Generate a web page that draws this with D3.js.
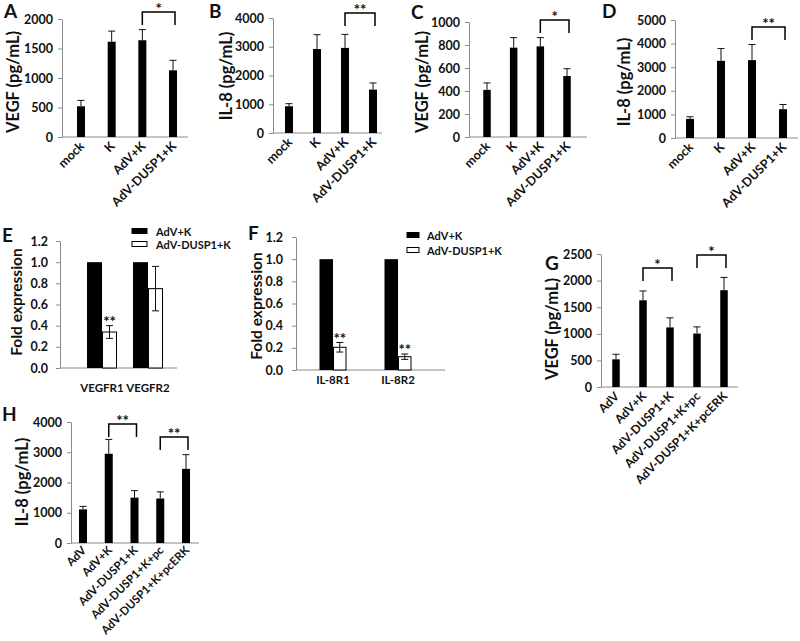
<!DOCTYPE html>
<html><head><meta charset="utf-8">
<script src="https://cdn.jsdelivr.net/npm/d3@7"></script>
<style>
body{margin:0;background:#fff}
svg text{font-family:Lato,"Open Sans",sans-serif;font-weight:700;fill:#111}
</style>
</head><body><svg id="c" width="800" height="641"></svg>
<script>
// ---------------- data ----------------
const catsCyt = ["mock","K","AdV+K","AdV-DUSP1+K"];
const catsRescue = ["AdV","AdV+K","AdV-DUSP1+K","AdV-DUSP1+K+pc","AdV-DUSP1+K+pcERK"];
const valsA = [520,1615,1640,1130], errA = [100,180,180,170];
const valsB = [930,2920,2960,1510], errB = [90,500,470,230];
const valsC = [410,777,788,530],   errC = [60,87,76,64];
const valsD = [810,3270,3300,1220], errD = [90,520,660,200];
const groupsE = ["VEGFR1","VEGFR2"], ctrlE = [1,1], dusE = [0.34,0.75], errE = [0.06,0.21];
const groupsF = ["IL-8R1","IL-8R2"], ctrlF = [1,1], dusF = [0.205,0.12], errF = [0.043,0.024];
const valsG = [520,1630,1120,1005,1820], errG = [95,175,180,125,240];
const valsH = [1110,2950,1500,1470,2450], errH = [100,475,230,220,470];
const ticksA = [0,500,1000,1500,2000];
const ticksB = [0,1000,2000,3000,4000];
const ticksC = [0,200,400,600,800,1000];
const ticksD = [0,1000,2000,3000,4000,5000];
const ticksEF = [0,0.2,0.4,0.6,0.8,1.0,1.2];
const ticksG = [0,500,1000,1500,2000,2500];
const ticksH = [0,1000,2000,3000,4000];
const legendLabels = ["AdV+K","AdV-DUSP1+K"];
// significance: [from index, to index, bracket top value, label]
const sigA = [[2,3,2119,"*"]];
const sigB = [[2,3,4174,"**"]];
const sigC = [[2,3,1017,"*"]];
const sigD = [[2,3,4703,"**"]];
const sigE = [[0,"**"]];
const sigF = [[0,"**"],[1,"**"]];
const sigG = [[1,2,2237,"*"],[3,4,2481,"*"]];
const sigH = [[1,2,3934,"**"],[3,4,3504,"**"]];

// ---------------- drawing ----------------
const svg = d3.select("#c");
const AX = "#8a8a8a";

function yAxis(g, y, ticks, axX, fmt, pad){
  const ax = d3.axisLeft(y).tickValues(ticks).tickSize(4).tickSizeOuter(0)
    .tickPadding(pad).tickFormat(fmt);
  const ga = g.append("g").attr("transform",`translate(${axX},0)`).call(ax);
  ga.attr("font-family",null).attr("font-size",null);
  ga.select(".domain").attr("stroke",AX);
  ga.selectAll(".tick line").attr("stroke",AX);
  ga.selectAll(".tick text").attr("font-size",12.5).attr("fill","#111");
}

function label(g, txt, x, y, size, rot){
  const t = g.append("text").text(txt).attr("font-size",size).attr("text-anchor","middle")
    .attr("dominant-baseline","central");
  if(rot) t.attr("transform",`translate(${x},${y}) rotate(-90)`);
  else t.attr("x",x).attr("y",y);
}

function barPanel(p){
  const g = svg.append("g");
  const x = d3.scalePoint().domain(p.cats).range([p.c0,p.c1]);
  const y = d3.scaleLinear().domain([0,p.ymax]).range([p.y0,p.yTop]);
  yAxis(g, y, p.ticks, p.ax, d3.format("d"), 5);
  g.append("line").attr("x1",p.ax).attr("x2",p.axEnd).attr("y1",p.y0).attr("y2",p.y0).attr("stroke",AX);
  const data = p.cats.map((c,i)=>({c, v:p.vals[i], e:p.errs[i]}));
  g.selectAll(".eb").data(data).enter().append("line")
    .attr("x1",d=>x(d.c)).attr("x2",d=>x(d.c)).attr("y1",d=>y(d.v)).attr("y2",d=>y(d.v+d.e))
    .attr("stroke","#111").attr("stroke-width",1);
  g.selectAll(".ec").data(data).enter().append("line")
    .attr("x1",d=>x(d.c)-3.5).attr("x2",d=>x(d.c)+3.5).attr("y1",d=>y(d.v+d.e)).attr("y2",d=>y(d.v+d.e))
    .attr("stroke","#111").attr("stroke-width",1);
  g.selectAll(".bar").data(data).enter().append("rect")
    .attr("x",d=>x(d.c)-p.bw/2).attr("width",p.bw)
    .attr("y",d=>y(d.v)).attr("height",d=>p.y0-y(d.v)).attr("fill","#000");
  g.selectAll(".xl").data(p.cats).enter().append("text").text(d=>d)
    .attr("font-size",p.xfs||12.5).attr("text-anchor","end")
    .attr("transform",d=>`translate(${x(d)+4},${p.y0+p.xoff}) rotate(-45)`);
  p.sig.forEach(s=>{
    const x1 = x(p.cats[s[0]]), x2 = x(p.cats[s[1]]) + 2, yt = y(s[2]);
    g.append("path").attr("d",`M${x1},${yt+13}V${yt}H${x2}V${yt+13}`)
      .attr("fill","none").attr("stroke","#000").attr("stroke-width",1.5);
    g.append("text").text(s[3]).attr("x",(x1+x2)/2).attr("y",yt+2)
      .attr("text-anchor","middle").attr("font-size",15);
  });
  label(g, p.ylab, p.lx, p.ly, 16.5, true);
  g.append("text").text(p.letter).attr("x",p.px).attr("y",p.py).attr("font-size",19);
}

function groupPanel(p){
  const g = svg.append("g");
  const x = d3.scalePoint().domain(p.groups).range([p.c0,p.c1]);
  const y = d3.scaleLinear().domain([0,1.2]).range([p.y0,p.yTop]);
  yAxis(g, y, ticksEF, p.ax, d3.format(".1f"), p.pad);
  g.append("line").attr("x1",p.ax).attr("x2",p.axEnd).attr("y1",p.y0).attr("y2",p.y0).attr("stroke",AX);
  const data = p.groups.map((c,i)=>({c, a:p.ctrl[i], b:p.dus[i], e:p.err[i]}));
  g.selectAll(".ba").data(data).enter().append("rect")
    .attr("x",d=>x(d.c)-p.bw).attr("width",p.bw)
    .attr("y",d=>y(d.a)).attr("height",d=>p.y0-y(d.a)).attr("fill","#000");
  g.selectAll(".bb").data(data).enter().append("rect")
    .attr("x",d=>x(d.c)+0.5).attr("width",p.bw-1)
    .attr("y",d=>y(d.b)).attr("height",d=>p.y0-y(d.b)).attr("fill","#fff").attr("stroke","#000").attr("stroke-width",1);
  g.selectAll(".eb").data(data).enter().append("path")
    .attr("d",d=>{const cx=x(d.c)+p.bw/2, lo=y(d.b-d.e), hi=y(d.b+d.e);
      return `M${cx},${lo}V${hi}M${cx-3.5},${lo}H${cx+3.5}M${cx-3.5},${hi}H${cx+3.5}`;})
    .attr("fill","none").attr("stroke","#111").attr("stroke-width",1);
  g.selectAll(".xl").data(p.groups).enter().append("text").text(d=>d)
    .attr("x",d=>x(d)).attr("y",p.y0+p.xlOff).attr("font-size",11.5)
    .attr("text-anchor","middle").attr("dominant-baseline","central");
  p.sig.forEach(s=>{
    const d = data[s[0]];
    g.append("text").text(s[1]).attr("x",x(d.c)+p.bw/2).attr("y",y(d.b+d.e)+1)
      .attr("text-anchor","middle").attr("font-size",15);
  });
  legendLabels.forEach((t,i)=>{
    const ly = p.legY + i*p.legGap;
    g.append("rect").attr("x",p.legX).attr("y",ly-2.5).attr("width",p.legW).attr("height",5)
      .attr("fill",i===0?"#000":"#fff").attr("stroke","#000").attr("stroke-width",1);
    g.append("text").text(t).attr("x",p.legX+p.legW+p.legTx).attr("y",ly).attr("font-size",11)
      .attr("dominant-baseline","central");
  });
  label(g, "Fold expression", p.lx, p.ly, 15.5, true);
  g.append("text").text(p.letter).attr("x",p.px).attr("y",p.py).attr("font-size",19);
}

barPanel({cats:catsCyt, vals:valsA, errs:errA, ticks:ticksA, ymax:2000, sig:sigA, xoff:10,
  ax:62, axEnd:188, c0:81, c1:173, y0:137, yTop:19, bw:8,
  ylab:"VEGF (pg/mL)", lx:13, ly:82, letter:"A", px:4, py:18});
barPanel({cats:catsCyt, vals:valsB, errs:errB, ticks:ticksB, ymax:4000, sig:sigB, xoff:10,
  ax:273, axEnd:382, c0:289, c1:373, y0:133, yTop:18, bw:8,
  ylab:"IL-8 (pg/mL)", lx:226, ly:76, letter:"B", px:209, py:18});
barPanel({cats:catsCyt, vals:valsC, errs:errC, ticks:ticksC, ymax:1000, sig:sigC, xoff:10,
  ax:469, axEnd:587, c0:487, c1:567, y0:137, yTop:22, bw:7.5,
  ylab:"VEGF (pg/mL)", lx:422, ly:82, letter:"C", px:411, py:19});
barPanel({cats:catsCyt, vals:valsD, errs:errD, ticks:ticksD, ymax:5000, sig:sigD, xoff:10,
  ax:675, axEnd:798, c0:690, c1:783, y0:138, yTop:20, bw:8,
  ylab:"IL-8 (pg/mL)", lx:624, ly:82, letter:"D", px:602, py:18});
groupPanel({groups:groupsE, ctrl:ctrlE, dus:dusE, err:errE, sig:sigE,
  ax:60, axEnd:177, c0:102, c1:148, y0:368, yTop:241, bw:15, pad:8, xlOff:19,
  legX:132, legY:231, legGap:13, legW:15, legTx:9,
  lx:16, ly:302, letter:"E", px:2, py:242});
groupPanel({groups:groupsF, ctrl:ctrlF, dus:dusF, err:errF, sig:sigF,
  ax:296, axEnd:445, c0:333, c1:398, y0:370, yTop:237, bw:13.5, pad:9, xlOff:9,
  legX:407, legY:235, legGap:15, legW:12, legTx:8,
  lx:256, ly:306, letter:"F", px:248, py:240});
barPanel({cats:catsRescue, vals:valsG, errs:errG, ticks:ticksG, ymax:2500, sig:sigG, xfs:12, xoff:10,
  ax:601, axEnd:738, c0:616, c1:724, y0:387, yTop:254, bw:7.5,
  ylab:"VEGF (pg/mL)", lx:552, ly:329, letter:"G", px:545, py:270});
barPanel({cats:catsRescue, vals:valsH, errs:errH, ticks:ticksH, ymax:4000, sig:sigH, xfs:11.5, xoff:8,
  ax:71, axEnd:199, c0:83, c1:186, y0:543, yTop:422, bw:8,
  ylab:"IL-8 (pg/mL)", lx:22, ly:482, letter:"H", px:2, py:421});
</script></body></html>
